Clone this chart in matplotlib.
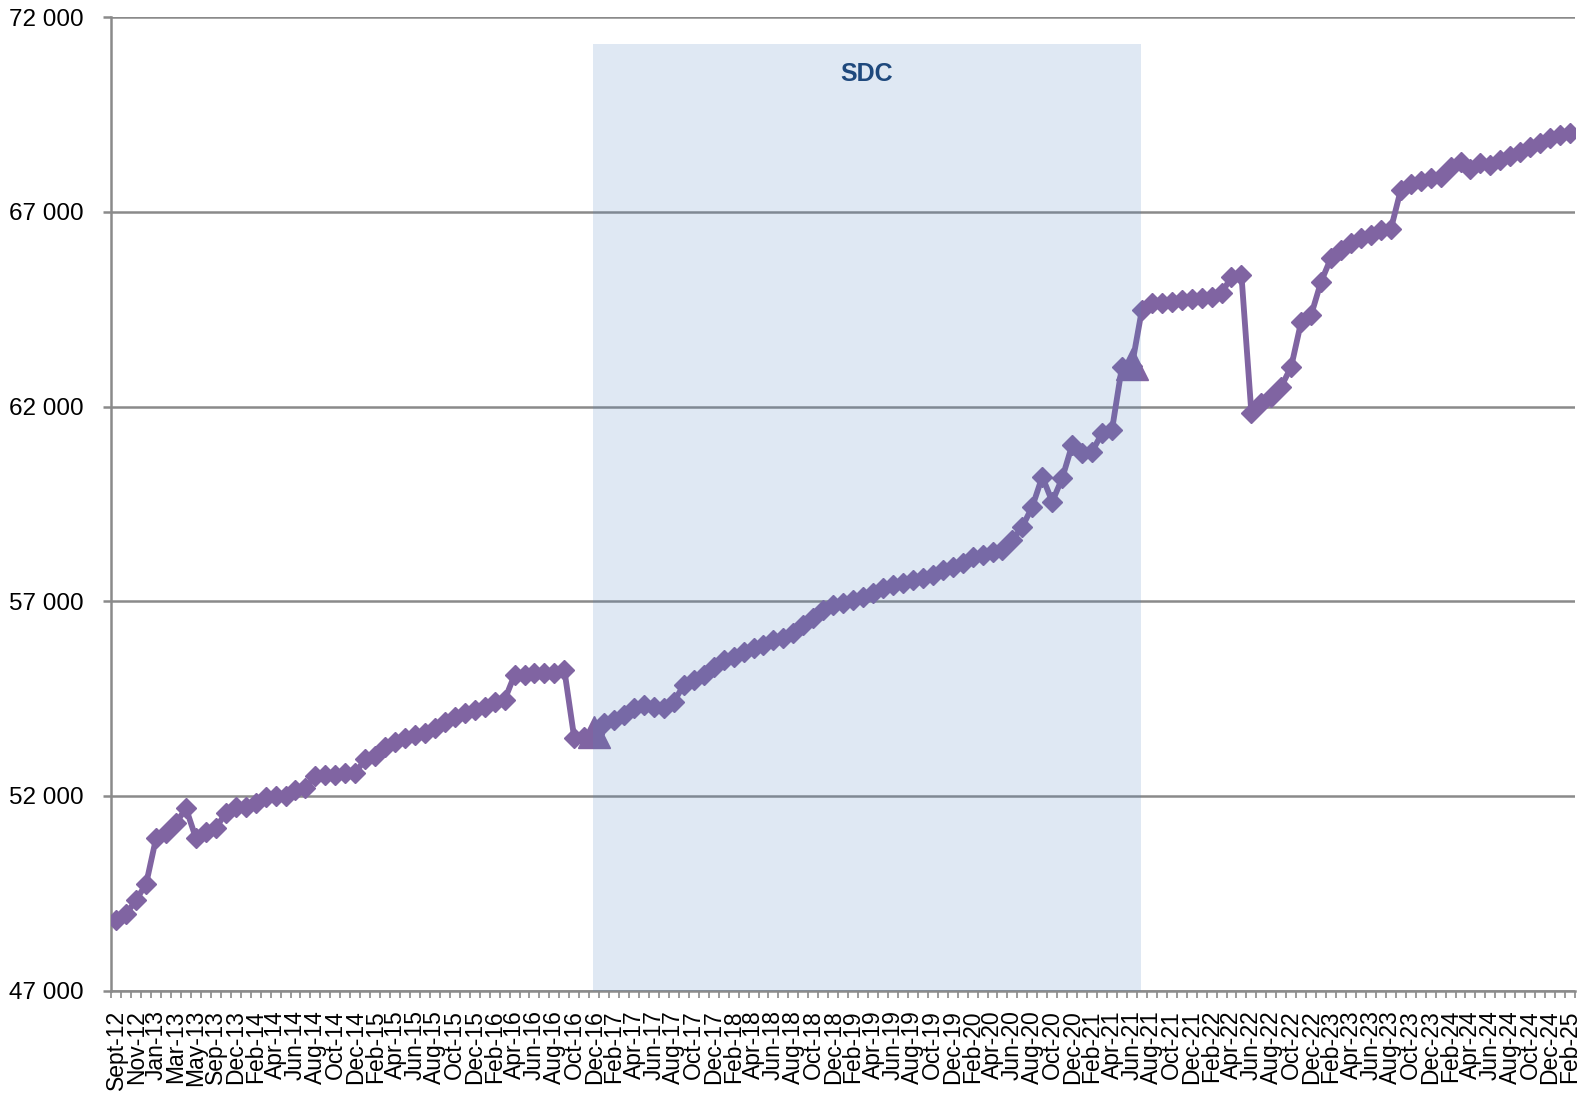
import numpy as np
import matplotlib
matplotlib.use("Agg")
import matplotlib.pyplot as plt
from matplotlib.ticker import FuncFormatter

plt.rcParams['font.family'] = ['Liberation Sans', 'DejaVu Sans']

# ---- data ----
tick_labels = [
    "Sept-12", "Nov-12", "Jan-13", "Mar-13", "May-13", "Sep-13", "Dec-13",
    "Feb-14", "Apr-14", "Jun-14", "Aug-14", "Oct-14", "Dec-14",
    "Feb-15", "Apr-15", "Jun-15", "Aug-15", "Oct-15", "Dec-15",
    "Feb-16", "Apr-16", "Jun-16", "Aug-16", "Oct-16", "Dec-16",
    "Feb-17", "Apr-17", "Jun-17", "Aug-17", "Oct-17", "Dec-17",
    "Feb-18", "Apr-18", "Jun-18", "Aug-18", "Oct-18", "Dec-18",
    "Feb-19", "Apr-19", "Jun-19", "Aug-19", "Oct-19", "Dec-19",
    "Feb-20", "Apr-20", "Jun-20", "Aug-20", "Oct-20", "Dec-20",
    "Feb-21", "Apr-21", "Jun-21", "Aug-21", "Oct-21", "Dec-21",
    "Feb-22", "Apr-22", "Jun-22", "Aug-22", "Oct-22", "Dec-22",
    "Feb-23", "Apr-23", "Jun-23", "Aug-23", "Oct-23", "Dec-23",
    "Feb-24", "Apr-24", "Jun-24", "Aug-24", "Oct-24", "Dec-24",
    "Feb-25",
]

values = [
    48820, 48970, 49330, 49740, 50915, 51040, 51300, 51685, 50915, 51085,
    51170, 51570, 51725, 51710, 51810, 51980, 52000, 52010, 52155, 52200,
    52500, 52550, 52550, 52600, 52580, 52950, 53030, 53265, 53395, 53480,
    53565, 53610, 53740, 53910, 54035, 54125, 54210, 54295, 54420, 54465,
    55105, 55105, 55150, 55150, 55160, 55235, 53480, 53520, 53600, 53870,
    53950, 54080, 54250, 54335, 54295, 54250, 54420, 54850, 54980, 55105,
    55320, 55490, 55580, 55705, 55795, 55880, 56010, 56050, 56180, 56390,
    56565, 56775, 56900, 56960, 57040, 57120, 57222, 57334, 57420, 57480,
    57548, 57590, 57676, 57805, 57890, 57976, 58146, 58190, 58275, 58318,
    58575, 58916, 59430, 60200, 59558, 60160, 61014, 60800, 60843, 61315,
    61400, 63025, 63050, 64481, 64653, 64653, 64695, 64738, 64755, 64780,
    64823, 64908, 65336, 65379, 61828, 62085, 62255, 62512, 63025, 64180,
    64353, 65208, 65820, 66010, 66190, 66320, 66407, 66535, 66553, 67562,
    67716, 67802, 67863, 67904, 68145, 68290, 68094, 68248, 68205, 68333,
    68436, 68546, 68675, 68760, 68890, 68975, 69018,
]

sdc_idx = [48, 102]
sdc_vals = [53650, 63100]
sdc_span = (47.9, 102.9)
sdc_label = "SDC"

y_min, y_max, y_step = 47000, 72000, 5000

# ---- figure ----
fig = plt.figure(figsize=(15.85, 10.97), dpi=100)
ax = fig.add_axes([0.0702, 0.097, 0.9235, 0.8873])

x = np.arange(len(values))
line_color = '#8064A2'
grid_color = '#8A8A8A'

ax.plot(x, values, color=line_color, lw=4.2, marker='D', markersize=9.8,
        markerfacecolor=line_color, markeredgecolor=line_color, zorder=3)
ax.plot(sdc_idx, sdc_vals, linestyle='none', marker='^', markersize=23,
        color=line_color, zorder=3)

# SDC shaded overlay (semi-transparent, drawn above the line)
ax.axvspan(sdc_span[0], sdc_span[1], ymin=0, ymax=0.973,
           facecolor='#4F81BD', alpha=0.18, edgecolor='none', zorder=4)
ax.text((sdc_span[0] + sdc_span[1]) / 2, 0.9417, sdc_label,
        transform=ax.get_xaxis_transform(), ha='center', va='center',
        fontsize=18, fontweight='bold', color='#1F497D', zorder=5)

ax.set_xlim(-0.5, len(values) - 0.5)
ax.set_ylim(y_min, y_max)

ax.set_yticks(np.arange(y_min, y_max + 1, y_step))
ax.yaxis.set_major_formatter(FuncFormatter(lambda v, p: f"{int(v):,}".replace(",", " ")))
ax.yaxis.grid(True, color=grid_color, lw=1.8, zorder=1)
ax.set_axisbelow(True)

ax.set_xticks(x[::2])
ax.set_xticklabels(tick_labels, rotation=90, fontsize=16.5)
ax.set_xticks(np.arange(-0.5, len(values), 1), minor=True)
ax.tick_params(axis='x', which='major', length=0, pad=14)
ax.tick_params(axis='x', which='minor', length=5, width=1.2, color=grid_color)
ax.tick_params(axis='y', which='major', length=6, width=1.8, color=grid_color,
               labelsize=17.5, pad=14)

for s in ['top', 'right']:
    ax.spines[s].set_visible(False)
for s in ['left', 'bottom']:
    ax.spines[s].set_color(grid_color)
    ax.spines[s].set_linewidth(1.8)

fig.savefig("out.png", dpi=100)
